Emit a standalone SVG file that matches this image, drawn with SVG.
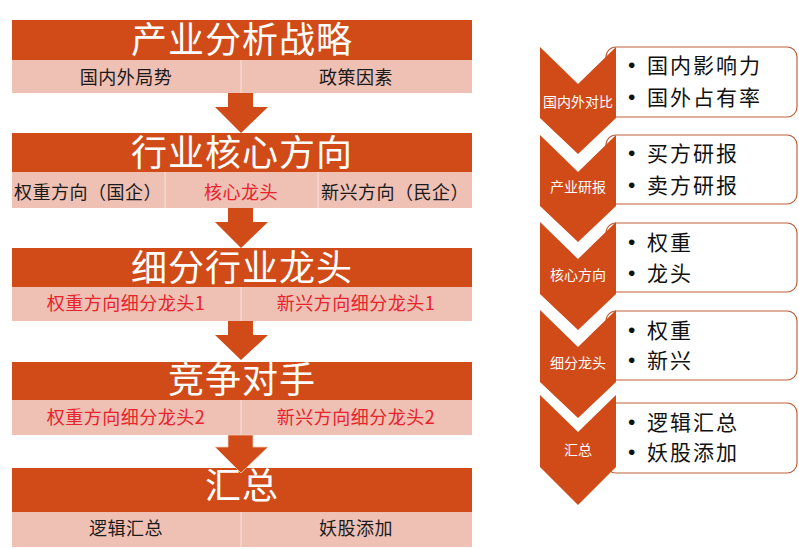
<svg xmlns="http://www.w3.org/2000/svg" width="799" height="549" viewBox="0 0 799 549">
<style>
.bar{fill:#D14B19}
.row{fill:#EFC0B4}
.div{stroke:#F7DDD6;stroke-width:1.2}
.title{font-family:"Noto Sans CJK SC","Liberation Sans",sans-serif;font-size:36px;fill:#fff;text-anchor:middle;letter-spacing:1px}
.rt{font-family:"Noto Sans CJK SC","Liberation Sans",sans-serif;font-size:18px;fill:#1a1a1a;text-anchor:middle;letter-spacing:0.5px}
.red{fill:#E8232B}
.arrow{fill:#D14B19}
.chev{fill:#D14B19}
.ct{font-family:"Noto Sans CJK SC","Liberation Sans",sans-serif;font-size:14px;fill:#fff;text-anchor:middle}
.box{fill:#fff;stroke:#C0603A;stroke-width:1.2}
.bt{font-family:"Noto Sans CJK SC","Liberation Sans",sans-serif;font-size:21px;fill:#111;letter-spacing:2px}
.bl{font-family:"Liberation Sans",Arial,sans-serif;font-size:21px;fill:#111}
</style>
<rect width="799" height="549" fill="#fff"/>

<g id="stage1">
<rect class="bar" x="12" y="20" width="460" height="40"/>
<rect class="row" x="12" y="60" width="460" height="33"/>
<line class="div" x1="241" y1="60" x2="241" y2="93"/>
<text class="title" x="242" y="53">产业分析战略</text>
<text class="rt" x="126" y="84">国内外局势</text>
<text class="rt" x="356" y="84">政策因素</text>
</g>

<g id="stage2">
<rect class="bar" x="12" y="133" width="460" height="39"/>
<rect class="row" x="12" y="172" width="460" height="36"/>
<line class="div" x1="165" y1="172" x2="165" y2="208"/>
<line class="div" x1="318" y1="172" x2="318" y2="208"/>
<text class="title" x="242" y="166">行业核心方向</text>
<text class="rt" x="88" y="199">权重方向（国企）</text>
<text class="rt red" x="241" y="199">核心龙头</text>
<text class="rt" x="395" y="199">新兴方向（民企）</text>
</g>

<g id="stage3">
<rect class="bar" x="12" y="248" width="460" height="39"/>
<rect class="row" x="12" y="287" width="460" height="34"/>
<line class="div" x1="241" y1="287" x2="241" y2="321"/>
<text class="title" x="242" y="281">细分行业龙头</text>
<text class="rt red" x="126" y="310">权重方向细分龙头1</text>
<text class="rt red" x="356" y="310">新兴方向细分龙头1</text>
</g>

<g id="stage4">
<rect class="bar" x="12" y="362" width="460" height="38"/>
<rect class="row" x="12" y="400" width="460" height="35"/>
<line class="div" x1="241" y1="400" x2="241" y2="435"/>
<text class="title" x="242" y="393">竞争对手</text>
<text class="rt red" x="126" y="424">权重方向细分龙头2</text>
<text class="rt red" x="356" y="424">新兴方向细分龙头2</text>
</g>

<g id="stage5">
<rect class="bar" x="12" y="468" width="460" height="44"/>
<rect class="row" x="12" y="512" width="460" height="35"/>
<line class="div" x1="241" y1="512" x2="241" y2="547"/>
<text class="title" x="242" y="499">汇总</text>
<text class="rt" x="126" y="535">逻辑汇总</text>
<text class="rt" x="356" y="535">妖股添加</text>
</g>

<g id="connectors">
<polygon class="arrow" points="228,93 253,93 253,107 268,107 241,133 215,107 228,107"/>
<polygon class="arrow" points="228,208 253,208 253,222 268,222 241,248 215,222 228,222"/>
<polygon class="arrow" points="228,321 253,321 253,335 268,335 241,360 215,335 228,335"/>
<polygon class="arrow" points="228,435 253,435 253,447 268,447 241,473 215,447 228,447" stroke="#F3CBBE" stroke-width="0.8"/>
</g>

<g id="item1">
<rect class="box" x="606" y="47" width="191" height="70" rx="10"/>
<polygon class="chev" points="540,47 578,84 616,47 616,118 578,154 540,118"/>
<text class="ct" x="578" y="107">国内外对比</text>
<text class="bl" x="628" y="72">•</text><text class="bt" x="647" y="73">国内影响力</text>
<text class="bl" x="628" y="104">•</text><text class="bt" x="647" y="105">国外占有率</text>
</g>

<g id="item2">
<rect class="box" x="606" y="135" width="191" height="69" rx="10"/>
<polygon class="chev" points="540,135 578,172 616,135 616,206 578,242 540,206"/>
<text class="ct" x="578" y="192">产业研报</text>
<text class="bl" x="628" y="160">•</text><text class="bt" x="647" y="161">买方研报</text>
<text class="bl" x="628" y="192">•</text><text class="bt" x="647" y="193">卖方研报</text>
</g>

<g id="item3">
<rect class="box" x="606" y="223" width="191" height="69" rx="10"/>
<polygon class="chev" points="540,222 578,259 616,222 616,294 578,330 540,294"/>
<text class="ct" x="578" y="280">核心方向</text>
<text class="bl" x="628" y="249">•</text><text class="bt" x="647" y="250">权重</text>
<text class="bl" x="628" y="280">•</text><text class="bt" x="647" y="281">龙头</text>
</g>

<g id="item4">
<rect class="box" x="606" y="311" width="191" height="69" rx="10"/>
<polygon class="chev" points="540,310 578,347 616,310 616,382 578,418 540,382"/>
<text class="ct" x="578" y="368">细分龙头</text>
<text class="bl" x="628" y="337">•</text><text class="bt" x="647" y="338">权重</text>
<text class="bl" x="628" y="367">•</text><text class="bt" x="647" y="368">新兴</text>
</g>

<g id="item5">
<rect class="box" x="606" y="403" width="191" height="70" rx="10"/>
<polygon class="chev" points="540,395 578,432 616,395 616,467 578,505 540,467"/>
<text class="ct" x="578" y="455">汇总</text>
<text class="bl" x="628" y="429">•</text><text class="bt" x="647" y="430">逻辑汇总</text>
<text class="bl" x="628" y="459">•</text><text class="bt" x="647" y="460">妖股添加</text>
</g>
</svg>
